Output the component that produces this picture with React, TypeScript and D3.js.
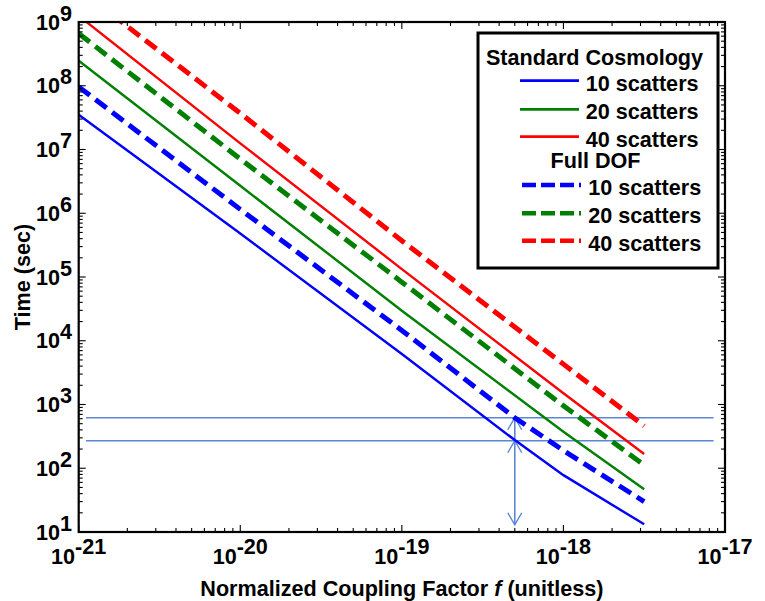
import React from 'react';
import * as d3 from 'd3';

const W = 765;
const H = 601;

// Coupling factor sample positions
const fBlue = [1e-21, 1e-20, 1e-19, 5e-19, 1e-18, 3.16e-18];
const fOther = [1e-21, 1e-20, 1e-19, 1e-18, 3.16e-18];

// Standard Cosmology (solid)
const std10 = [3.5e7, 4.8e5, 6.2e3, 277, 78, 13.2];
const std20 = [2.47e8, 2.7e6, 2.96e4, 375, 47];
const std40 = [1.25e9, 1.25e7, 1.33e5, 1.5e3, 167];
// Full DOF (dashed)
const dof10 = [9.6e7, 1.15e6, 1.45e4, 620, 190, 30];
const dof20 = [6.6e8, 7.1e6, 8.3e4, 957, 112];
const dof40 = [3.3e9, 3.7e7, 3.7e5, 4.3e3, 460];

const xTickExps = [-21, -20, -19, -18, -17];
const yTickExps = [1, 2, 3, 4, 5, 6, 7, 8, 9];
const seriesNames = ['10 scatters', '20 scatters', '40 scatters'];
const seriesColors = ['#0000ff', '#008000', '#ff0000'];

const refLevels = [620, 270];
const refRange = [1.11e-21, 8.5e-18];
const arrowF = 5e-19;
const arrowBottom = 13;

const FONT = "'Liberation Sans', Arial, Helvetica, sans-serif";
const FS = 21.6;

export default function App() {
  const left = 78.7, right = 725, top = 22, bottom = 532;
  const x = d3.scaleLog().domain([1e-21, 1e-17]).range([left, right]);
  const y = d3.scaleLog().domain([10, 1e9]).range([bottom, top]);

  const line = d3.line<[number, number]>().x(d => x(d[0])).y(d => y(d[1]));
  const mk = (fs: number[], vs: number[]) => line(fs.map((f, i) => [f, vs[i]] as [number, number])) || '';

  const solid = [mk(fBlue, std10), mk(fOther, std20), mk(fOther, std40)];
  const dashed = [mk(fBlue, dof10), mk(fOther, dof20), mk(fOther, dof40)];

  const majorLen = 7, minorLen = 4;
  const xTicks: { v: number; major: boolean }[] = [];
  for (let e = -21; e <= -17; e++) {
    xTicks.push({ v: Math.pow(10, e), major: true });
    if (e < -17) for (let m = 2; m <= 9; m++) xTicks.push({ v: m * Math.pow(10, e), major: false });
  }
  const yTicks: { v: number; major: boolean }[] = [];
  for (let e = 1; e <= 9; e++) {
    yTicks.push({ v: Math.pow(10, e), major: true });
    if (e < 9) for (let m = 2; m <= 9; m++) yTicks.push({ v: m * Math.pow(10, e), major: false });
  }

  const arrowColor = '#5b86d6';
  const ax = x(arrowF);
  const yBot = y(arrowBottom);
  const yLow = y(refLevels[1]);
  const yHigh = y(refLevels[0]);
  const ah = 12, aw = 7;

  const legX = 478, legY = 33, legW = 240, legH = 235;
  const solidRows = [80.7, 109.3, 136.7];
  const dashRows = [185, 213.3, 240.7];

  return (
    <svg width={W} height={H} style={{ position: 'absolute', left: 0, top: 0, background: '#fff' }}
      fontFamily={FONT} fontWeight="bold">
      <defs>
        <clipPath id="plotclip">
          <rect x={left} y={top} width={right - left} height={bottom - top} />
        </clipPath>
      </defs>
      <rect x={0} y={0} width={W} height={H} fill="#fff" />

      {/* reference lines */}
      <g stroke={arrowColor} strokeWidth={1.4} fill="none">
        {refLevels.map((v, i) => (
          <line key={i} x1={x(refRange[0])} x2={x(refRange[1])} y1={y(v)} y2={y(v)} />
        ))}
        <line x1={ax} x2={ax} y1={yBot} y2={yHigh} strokeWidth={1.6} />
        <polyline points={`${ax - aw},${yBot - ah} ${ax},${yBot} ${ax + aw},${yBot - ah}`} />
        <polyline points={`${ax - aw},${yLow + ah} ${ax},${yLow} ${ax + aw},${yLow + ah}`} />
        <polyline points={`${ax - aw},${yHigh + ah} ${ax},${yHigh} ${ax + aw},${yHigh + ah}`} />
      </g>

      {/* curves */}
      <g clipPath="url(#plotclip)" fill="none">
        {solid.map((d, i) => (
          <path key={'s' + i} d={d} stroke={seriesColors[i]} strokeWidth={2.4} />
        ))}
        {dashed.map((d, i) => (
          <path key={'d' + i} d={d} stroke={seriesColors[i]} strokeWidth={5} strokeDasharray="14,7" />
        ))}
      </g>

      {/* axes box and ticks */}
      <g stroke="#000" strokeWidth={1.1}>
        {xTicks.map((t, i) => {
          const len = t.major ? majorLen : minorLen;
          const px = x(t.v);
          return (
            <g key={'xt' + i}>
              <line x1={px} x2={px} y1={bottom} y2={bottom - len} />
              <line x1={px} x2={px} y1={top} y2={top + len} />
            </g>
          );
        })}
        {yTicks.map((t, i) => {
          const len = t.major ? majorLen : minorLen;
          const py = y(t.v);
          return (
            <g key={'yt' + i}>
              <line x1={left} x2={left + len} y1={py} y2={py} />
              <line x1={right} x2={right - len} y1={py} y2={py} />
            </g>
          );
        })}
      </g>
      <rect x={left} y={top} width={right - left} height={bottom - top} fill="none" stroke="#000" strokeWidth={2.2} />

      {/* tick labels */}
      <g fontSize={FS} fill="#000">
        {xTickExps.map(e => (
          <text key={'xl' + e} x={x(Math.pow(10, e))} y={564} textAnchor="middle">
            <tspan>10</tspan>
            <tspan dy={-10}>{e}</tspan>
          </text>
        ))}
        {yTickExps.map(e => (
          <text key={'yl' + e} x={72} y={y(Math.pow(10, e)) + 7.5} textAnchor="end">
            <tspan>10</tspan>
            <tspan dy={-9}>{e}</tspan>
          </text>
        ))}
      </g>

      {/* axis labels */}
      <text x={(left + right) / 2} y={596} textAnchor="middle" fontSize={FS}>
        Normalized Coupling Factor <tspan fontStyle="italic">f</tspan> (unitless)
      </text>
      <text transform={`translate(29.5, ${(top + bottom) / 2}) rotate(-90)`} textAnchor="middle" fontSize={FS}>
        Time (sec)
      </text>

      {/* legend */}
      <rect x={legX} y={legY} width={legW} height={legH} fill="#fff" stroke="#000" strokeWidth={3} />
      <g fontSize={FS}>
        <text x={594.5} y={65} textAnchor="middle">Standard Cosmology</text>
        {solidRows.map((ry, i) => (
          <g key={'ls' + i}>
            <line x1={520} x2={579} y1={ry} y2={ry} stroke={seriesColors[i]} strokeWidth={2.8} />
            <text x={585.7} y={ry + 10}>{seriesNames[i]}</text>
          </g>
        ))}
        <text x={595.5} y={168} textAnchor="middle">Full DOF</text>
        {dashRows.map((ry, i) => (
          <g key={'ld' + i}>
            <line x1={522} x2={581} y1={ry} y2={ry} stroke={seriesColors[i]} strokeWidth={4.5} strokeDasharray="14,5" />
            <text x={588.3} y={ry + 10}>{seriesNames[i]}</text>
          </g>
        ))}
      </g>
    </svg>
  );
}
